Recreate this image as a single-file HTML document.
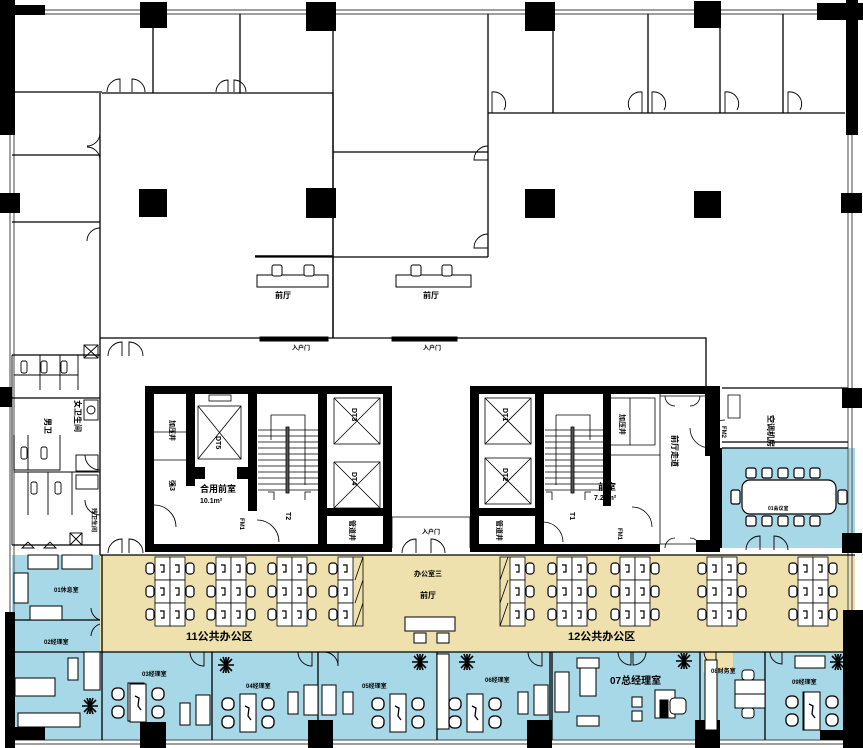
<!DOCTYPE html>
<html><head><meta charset="utf-8"><style>
html,body{margin:0;padding:0;background:#fff;}
svg{display:block;}
text{font-family:"Liberation Sans","Noto Sans CJK SC",sans-serif;font-weight:bold;fill:#000;}
</style></head><body>
<svg width="863" height="748" viewBox="0 0 863 748" xmlns="http://www.w3.org/2000/svg">
<defs>
<g id="cell"><rect x="0" y="0" width="15" height="23" fill="#fff" stroke="#000" stroke-width="0.8"/><path d="M5 8 l4 0 l0 7 l-3 0" fill="none" stroke="#000" stroke-width="1.2"/></g>
<g id="chL"><rect x="-9" y="6" width="8" height="11" rx="3" fill="#fff" stroke="#000" stroke-width="1.2"/></g>
<g id="chR"><rect x="1" y="6" width="8" height="11" rx="3" fill="#fff" stroke="#000" stroke-width="1.2"/></g>
<g id="pair"><use href="#cell"/><use href="#cell" x="15"/><use href="#chL"/><use href="#chR" x="30"/></g>
<g id="grp"><use href="#pair" y="0"/><use href="#pair" y="23"/><use href="#pair" y="46"/></g>
<g id="half"><use href="#cell"/><use href="#chL"/><use href="#cell" y="23"/><use href="#chL" y="23"/><use href="#cell" y="46"/><use href="#chL" y="46"/><path d="M15 0 l10 0 l0 69 l-10 0 M25 0 L17 23 M25 23 L17 46 M25 46 L17 69" fill="none" stroke="#000" stroke-width="0.8"/></g>
<g id="halfR"><use href="#cell"/><use href="#chR" x="15"/><use href="#cell" y="23"/><use href="#chR" x="15" y="23"/><use href="#cell" y="46"/><use href="#chR" x="15" y="46"/><path d="M0 0 l-10 0 l0 69 l10 0 M-10 23 L-2 0 M-10 46 L-2 23 M-10 69 L-2 46" fill="none" stroke="#000" stroke-width="0.8"/></g>
<g id="desk"><rect x="0" y="0" width="16" height="38" fill="#fff" stroke="#000"/><rect x="-18" y="4" width="12" height="12" rx="5" fill="#fff" stroke="#000" stroke-width="1.3"/><rect x="-18" y="22" width="12" height="12" rx="5" fill="#fff" stroke="#000" stroke-width="1.3"/><rect x="22" y="4" width="12" height="12" rx="5" fill="#fff" stroke="#000" stroke-width="1.3"/><rect x="22" y="22" width="12" height="12" rx="5" fill="#fff" stroke="#000" stroke-width="1.3"/><path d="M5 12 l4 2 l-1 8 l3 4" fill="none" stroke="#000" stroke-width="1.3"/></g>
<g id="plant"><path d="M0 -8 L0 8 M-8 0 L8 0 M-6 -6 L6 6 M-6 6 L6 -6 M-3 -8 L3 8 M3 -8 L-3 8" stroke="#000" stroke-width="1.6"/></g>
</defs>

<rect x="100" y="555" width="755" height="97" fill="#efe1ae"/>
<rect x="12" y="555" width="88" height="185" fill="#a6d8e7"/>
<rect x="100" y="652" width="755" height="88" fill="#a6d8e7"/>
<rect x="722" y="448" width="133" height="100" fill="#a6d8e7"/>
<rect x="703" y="652" width="30" height="20" fill="#efe1ae"/>

<g fill="none" stroke="#666" stroke-width="1.2">
<path d="M10 10 H852 M10 14 H852"/>
<path d="M10 135 V748 M14 135 V748"/>
<path d="M848 135 V748 M852 135 V748"/>
<path d="M12 740 H852 M12 744 H852"/>
</g>
<g fill="none" stroke="#000" stroke-width="1.3">
<path d="M0 92 H102 M100 93 V338 M12 155 H100 M12 222 H100"/>
<path d="M102 93 H333 V338 M153 28 V93 M240 14 V93"/>
<path d="M333 14 V338 M333 152 H488 M333 257 H488 M488 14 V257 M488 113 H845"/>
<path d="M553 14 V113 M648 14 V113 M720 14 V113 M783 14 V113"/>
<path d="M100 338 H706 V390 M100 338 V555"/>
<path d="M255 257 H333"/>
<path d="M722 388 H848 M722 442 H848 M722 448 H848"/>
<path d="M100 652 H855 M100 555 H855"/>
<path d="M102 555 V740 M12 620 H100 M12 652 H100"/>
<path d="M212 652 V740 M318 652 V740 M437 652 V740 M550 652 V740 M552 652 V740 M700 652 V740 M765 652 V740"/>
<path d="M12 355 H100 M12 398 H100 M12 545 H100"/>
</g>
<g fill="none" stroke="#000" stroke-width="0.9">
<path d="M107 92 A13 13 0 0 1 120 79 V92 M145 92 A13 13 0 0 0 132 79 V92"/>
<path d="M216 92 A12 12 0 0 1 228 80 V92 M246 92 A12 12 0 0 0 234 80 V92"/>
<path d="M100 133 A13 13 0 0 1 87 146 M100 160 A13 13 0 0 0 87 147 M100 228 A13 13 0 0 0 87 241"/>
<path d="M492 113 V92 A12 12 0 0 1 504 110 M642 113 V92 A12 12 0 0 0 630 110 M652 113 V92 A12 12 0 0 1 664 110 M725 113 V92 A12 12 0 0 1 737 110 M788 113 V92 A12 12 0 0 1 800 110"/>
<path d="M488 146 A14 14 0 0 0 474 160 H488 M488 234 A14 14 0 0 0 474 248 H488"/>
<path d="M108 356 A14 14 0 0 1 122 342 V356 M143 356 A14 14 0 0 0 129 342 V356"/>
<path d="M108 553 A14 14 0 0 1 122 539 V553 M143 553 A14 14 0 0 0 129 539 V553"/>
<path d="M402 553 A14 14 0 0 1 416 539 V553 M445 553 A14 14 0 0 0 431 539 V553"/>
<path d="M85 455 A15 15 0 0 0 100 470 M85 500 A15 15 0 0 0 100 515"/>
<path d="M91 608 A13 13 0 0 0 100 620 M100 624 A13 13 0 0 0 91 636"/>
<path d="M190 652 A14 14 0 0 0 204 666 V652 M298 652 A14 14 0 0 0 312 666 V652 M324 652 A14 14 0 0 1 338 666 V652"/>
<path d="M528 652 A14 14 0 0 0 542 666 V652 M618 652 A13 13 0 0 0 631 665 V652 M646 652 A13 13 0 0 1 633 665 V652"/>
<path d="M704 652 A12 12 0 0 0 716 664 V652 M770 652 A12 12 0 0 0 782 664 V652"/>
<path d="M746 550 A14 14 0 0 1 760 536 V550 M788 550 A14 14 0 0 0 774 536 V550"/>
</g>

<g fill="#000">
<rect x="0" y="0" width="15" height="135"/><rect x="0" y="5" width="45" height="10"/>
<rect x="140" y="2" width="27" height="26"/><rect x="306" y="2" width="30" height="29"/>
<rect x="525" y="2" width="30" height="29"/><rect x="694" y="1" width="27" height="27"/>
<rect x="817" y="3" width="46" height="17"/><rect x="846" y="0" width="12" height="135"/>
<rect x="139" y="189" width="28" height="28"/><rect x="306" y="188" width="30" height="30"/>
<rect x="525" y="189" width="30" height="29"/><rect x="694" y="191" width="27" height="27"/>
<rect x="0" y="193" width="20" height="20"/><rect x="841" y="193" width="21" height="20"/>
<rect x="0" y="387" width="12" height="20"/><rect x="842" y="388" width="20" height="20"/>
<rect x="842" y="533" width="20" height="20"/>
<rect x="5" y="612" width="10" height="136"/><rect x="5" y="727" width="40" height="13"/>
<rect x="140" y="722" width="26" height="26"/><rect x="308" y="720" width="25" height="28"/>
<rect x="527" y="720" width="25" height="28"/><rect x="695" y="720" width="25" height="28"/>
<rect x="843" y="610" width="20" height="138"/><rect x="820" y="730" width="43" height="10"/>
</g>

<g fill="#000">
<rect x="145" y="386" width="247" height="8"/><rect x="145" y="544" width="247" height="8"/>
<rect x="145" y="386" width="9" height="166"/><rect x="383" y="386" width="9" height="166"/>
<rect x="186" y="386" width="9" height="100"/><rect x="248" y="386" width="9" height="125"/>
<rect x="318" y="386" width="9" height="166"/><rect x="327" y="508" width="60" height="8"/>
<rect x="195" y="467" width="10" height="12"/><rect x="237" y="467" width="11" height="12"/>
<rect x="470" y="386" width="250" height="8"/><rect x="470" y="544" width="190" height="8"/>
<rect x="470" y="386" width="9" height="166"/><rect x="535" y="386" width="9" height="166"/>
<rect x="603" y="386" width="8" height="120"/><rect x="705" y="386" width="15" height="70"/>
<rect x="710" y="448" width="12" height="100"/><rect x="479" y="508" width="56" height="8"/>
<rect x="696" y="540" width="24" height="12"/>
</g>
<g fill="none" stroke="#000" stroke-width="0.8">
<rect x="198" y="406" width="43" height="53"/><path d="M198 406 L241 459 M241 406 L198 459"/>
<rect x="209" y="395" width="22" height="6"/>
<rect x="334" y="398" width="46" height="46"/><path d="M334 398 L380 444 M380 398 L334 444"/>
<rect x="334" y="462" width="46" height="46"/><path d="M334 462 L380 508 M380 462 L334 508"/>
<rect x="485" y="398" width="46" height="46"/><path d="M485 398 L531 444 M531 398 L485 444"/>
<rect x="485" y="458" width="46" height="46"/><path d="M485 458 L531 504 M531 458 L485 504"/>
<path d="M258 430 H318 M258 436 H318 M258 442 H318 M258 448 H318 M258 454 H318 M258 460 H318 M258 466 H318 M258 472 H318 M258 478 H318 M258 484 H318 M258 490 H318"/>
<rect x="286" y="427" width="3" height="66" fill="#555"/>
<path d="M271 415 H305 V485 M271 415 V440 M274 500 V492 H268 M305 500 V492 H311"/>
<path d="M545 430 H603 M545 436 H603 M545 442 H603 M545 448 H603 M545 454 H603 M545 460 H603 M545 466 H603 M545 472 H603 M545 478 H603 M545 484 H603 M545 490 H603"/>
<rect x="571" y="427" width="3" height="66" fill="#555"/>
<path d="M556 415 H590 V440 M556 415 V485 M552 500 V492 H546 M585 500 V492 H591"/>
<path d="M611 398 H655 V445 H611 M630 398 V445 M611 455 H660"/>
<path d="M154 460 H186 M154 432 H186"/>
<path d="M154 505 A22 22 0 0 1 176 527 M257 520 A22 22 0 0 1 279 542 M543 522 A20 20 0 0 1 563 542 M652 527 A20 20 0 0 0 632 507 M690 428 A20 20 0 0 0 710 448 M725 420 A16 16 0 0 0 709 436"/>
<path d="M660 394 V544 M660 396 H705 M660 544 H705"/>
<path d="M665 396 A10 10 0 0 0 675 406 M700 396 A10 10 0 0 1 690 406 M665 548 A10 10 0 0 1 675 538 M700 548 A10 10 0 0 0 690 538"/>
<path d="M392 517 V548 M470 517 V548 M392 517 H470"/>
<path d="M728 395 H740 V418 H728 Z"/>
</g>

<g fill="none" stroke="#000" stroke-width="0.9">
<path d="M12 355 V545 M14 375 H78 M40 355 V390 M60 355 V390 M78 355 V390"/>
<rect x="21" y="361" width="6" height="12" rx="2"/><rect x="41" y="361" width="6" height="12" rx="2"/><rect x="61" y="361" width="6" height="12" rx="2"/>
<rect x="21" y="447" width="6" height="12" rx="2"/><rect x="41" y="447" width="6" height="12" rx="2"/>
<rect x="31" y="482" width="6" height="12" rx="2"/><rect x="55" y="482" width="6" height="12" rx="2"/>
<path d="M14 435 V470 H60 V435 M28 470 V435 M14 472 H100 M28 472 V515 M48 472 V515 M72 472 V515"/>
<rect x="84" y="400" width="14" height="20"/><circle cx="91" cy="410" r="4"/>
<rect x="76" y="455" width="22" height="16"/><rect x="76" y="475" width="22" height="14"/>
<rect x="70" y="533" width="12" height="12"/><path d="M70 533 L82 545 M82 533 L70 545 M84 345 L98 358 M98 345 L84 358"/><rect x="84" y="345" width="14" height="13"/>
<path d="M22 548 L28 542 L34 548 Z M44 548 L50 542 L56 548 Z"/>
</g>

<g fill="#fff" stroke="#000" stroke-width="1">
<path d="M255 256 H333" stroke-width="1.5"/>
<rect x="257" y="275" width="71" height="12"/>
<rect x="272" y="265" width="10" height="11" rx="2"/><rect x="304" y="265" width="10" height="11" rx="2"/>
<rect x="396" y="275" width="75" height="12"/>
<rect x="411" y="265" width="10" height="11" rx="2"/><rect x="442" y="265" width="10" height="11" rx="2"/>
<rect x="260" y="337" width="68" height="4" fill="#000"/><rect x="392" y="337" width="65" height="4" fill="#000"/>
<rect x="405" y="617" width="50" height="14"/><rect x="414" y="633" width="12" height="10"/><rect x="437" y="633" width="12" height="10"/>
</g>

<use href="#grp" x="155" y="557"/>
<use href="#grp" x="216" y="557"/>
<use href="#grp" x="277" y="557"/>
<use href="#half" x="338" y="557"/>
<use href="#halfR" x="510" y="557"/>
<use href="#grp" x="557" y="557"/>
<use href="#grp" x="620" y="557"/>
<use href="#grp" x="707" y="557"/>
<use href="#grp" x="798" y="557"/>

<g fill="#fff" stroke="#000" stroke-width="1.2">
<rect x="742" y="480" width="94" height="34" rx="8"/>
<rect x="746" y="468" width="10" height="10" rx="2"/><rect x="762" y="468" width="10" height="10" rx="2"/><rect x="778" y="468" width="10" height="10" rx="2"/><rect x="794" y="468" width="10" height="10" rx="2"/><rect x="810" y="468" width="10" height="10" rx="2"/>
<rect x="746" y="516" width="10" height="10" rx="2"/><rect x="762" y="516" width="10" height="10" rx="2"/><rect x="778" y="516" width="10" height="10" rx="2"/><rect x="794" y="516" width="10" height="10" rx="2"/><rect x="810" y="516" width="10" height="10" rx="2"/>
<rect x="731" y="490" width="9" height="14" rx="2"/><rect x="838" y="490" width="9" height="14" rx="2"/>
</g>

<g fill="#fff" stroke="#000" stroke-width="1">
<rect x="28" y="555" width="30" height="14"/><rect x="62" y="555" width="30" height="14"/>
<rect x="14" y="573" width="14" height="30"/><rect x="30" y="606" width="32" height="14"/>
<rect x="15" y="678" width="40" height="18"/><rect x="68" y="658" width="10" height="22"/><rect x="84" y="652" width="16" height="38"/>
<rect x="18" y="713" width="62" height="14"/>
<rect x="128" y="683" width="16" height="38"/><rect x="180" y="703" width="10" height="22"/><rect x="196" y="695" width="14" height="30"/>
<rect x="240" y="694" width="16" height="38"/><rect x="288" y="692" width="10" height="22"/><rect x="304" y="685" width="14" height="30"/>
<rect x="322" y="685" width="14" height="30"/><rect x="343" y="692" width="10" height="22"/><rect x="390" y="694" width="16" height="38"/>
<rect x="467" y="694" width="16" height="38"/><rect x="518" y="692" width="10" height="22"/><rect x="534" y="685" width="14" height="30"/>
<rect x="555" y="672" width="14" height="40"/><rect x="580" y="668" width="16" height="28"/><rect x="577" y="658" width="22" height="10"/><rect x="577" y="716" width="22" height="10"/>
<rect x="655" y="690" width="20" height="28"/><rect x="660" y="700" width="8" height="18" fill="#000"/><rect x="670" y="698" width="16" height="16" rx="4"/><rect x="632" y="697" width="10" height="10"/><rect x="632" y="711" width="10" height="10"/>
<rect x="735" y="680" width="30" height="14"/><rect x="735" y="694" width="30" height="14"/><rect x="742" y="670" width="12" height="10" rx="3"/><rect x="742" y="708" width="12" height="10" rx="3"/>
<rect x="795" y="656" width="30" height="12"/><rect x="803" y="692" width="16" height="38"/>
<rect x="705" y="660" width="12" height="70"/>
<rect x="437" y="654" width="12" height="75"/>
</g>
<use href="#desk" x="130" y="684"/>
<use href="#desk" x="240" y="694"/>
<use href="#desk" x="390" y="694"/>
<use href="#desk" x="467" y="694"/>
<use href="#desk" x="804" y="692"/>
<g><use href="#plant" x="90" y="706"/><use href="#plant" x="226" y="665"/><use href="#plant" x="420" y="662"/><use href="#plant" x="467" y="662"/><use href="#plant" x="684" y="661"/><use href="#plant" x="838" y="662"/></g>

<g font-size="8">
<text x="275" y="298">前厅</text><text x="423" y="298">前厅</text>
<text x="292" y="350" font-size="6">入户门</text><text x="423" y="350" font-size="6">入户门</text><text x="422" y="534" font-size="6">入户门</text>
<text x="414" y="576" font-size="7">办公室三</text><text x="420" y="598">前厅</text>
<text x="186" y="640" font-size="11">11公共办公区</text><text x="568" y="640" font-size="11">12公共办公区</text>
<text x="54" y="592" font-size="6">01休息室</text><text x="44" y="644" font-size="6">02经理室</text>
<text x="142" y="676" font-size="6">03经理室</text><text x="246" y="688" font-size="6">04经理室</text><text x="362" y="688" font-size="6">05经理室</text>
<text x="485" y="682" font-size="6">06经理室</text><text x="610" y="684" font-size="10">07总经理室</text>
<text x="711" y="673" font-size="6">08财务室</text><text x="792" y="684" font-size="6">09经理室</text>
<text x="768" y="510" font-size="5">01会议室</text>
<text x="200" y="492" font-size="9">合用前室</text><text x="200" y="503" font-size="7">10.1m²</text>
<text x="598" y="490" font-size="9">前室</text><text x="594" y="500" font-size="7">7.20m²</text>
</g>
<g font-size="8">
<text transform="translate(75,400) rotate(90)">女卫生间</text>
<text transform="translate(45,418) rotate(90)">男卫</text>
<text transform="translate(92,508) rotate(90)" font-size="6">残卫生间</text>
<text transform="translate(352,408) rotate(90)" font-size="7">DT3</text>
<text transform="translate(352,472) rotate(90)" font-size="7">DT4</text>
<text transform="translate(216,436) rotate(90)" font-size="7">DT5</text>
<text transform="translate(503,408) rotate(90)" font-size="7">DT1</text>
<text transform="translate(503,468) rotate(90)" font-size="7">DT2</text>
<text transform="translate(286,512) rotate(90)" font-size="7">T2</text>
<text transform="translate(570,512) rotate(90)" font-size="7">T1</text>
<text transform="translate(350,520) rotate(90)" font-size="7">管道井</text>
<text transform="translate(497,520) rotate(90)" font-size="7">管道井</text>
<text transform="translate(768,415) rotate(90)" font-size="8">空调机房</text>
<text transform="translate(672,435) rotate(90)" font-size="8">前厅走道</text>
<text transform="translate(170,420) rotate(90)" font-size="7">加压井</text>
<text transform="translate(170,480) rotate(90)" font-size="7">强3</text>
<text transform="translate(620,414) rotate(90)" font-size="7">加压井</text>
<text transform="translate(240,518) rotate(90)" font-size="6">FM1</text>
<text transform="translate(618,528) rotate(90)" font-size="6">FM1</text>
<text transform="translate(722,426) rotate(90)" font-size="6">FM2</text>
</g>
</svg>
</body></html>
